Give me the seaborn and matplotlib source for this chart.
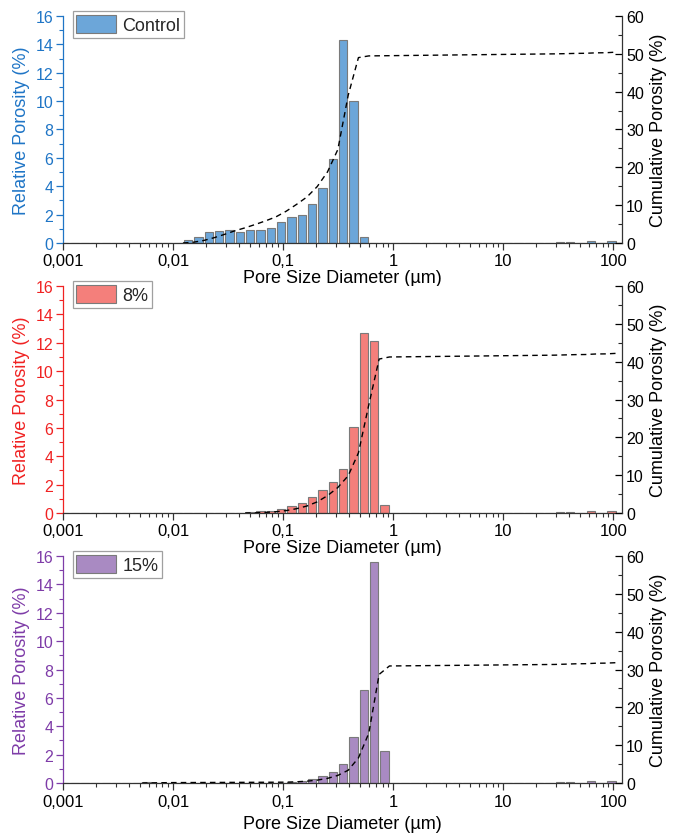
import numpy as np
import matplotlib
matplotlib.use("Agg")
import matplotlib.pyplot as plt
from matplotlib.patches import Patch
from matplotlib.ticker import MultipleLocator, LogLocator, NullFormatter
import seaborn as sns

# ---------------- data ----------------
x_ticks = [0.001, 0.01, 0.1, 1, 10, 100]
x_ticklabels = ["0,001", "0,01", "0,1", "1", "10", "100"]

# pore diameters (µm) of the MIP classes
control_d = [0.0137, 0.0170, 0.0212, 0.0262, 0.0326, 0.0404, 0.0502, 0.0622, 0.0772, 0.0958,
             0.1189, 0.1476, 0.1831, 0.2273, 0.2820, 0.350, 0.434, 0.539,
             0.669, 0.830, 1.030, 1.278, 1.586, 1.968, 2.442, 3.031, 3.761, 4.667,
             5.792, 7.187, 8.919, 11.07, 13.73, 17.04, 21.15, 26.24,
             32.57, 40.41, 50.15, 62.23, 77.22, 95.83]
control_p = [0.20, 0.45, 0.75, 0.85, 0.95, 0.80, 0.90, 0.95, 1.05, 1.50,
             1.80, 1.95, 2.75, 3.90, 5.90, 14.30, 10.00, 0.45,
             0.03, 0.03, 0.03, 0.03, 0.03, 0.03, 0.03, 0.03, 0.03, 0.03,
             0.03, 0.03, 0.03, 0.03, 0.03, 0.03, 0.03, 0.03,
             0.05, 0.07, 0.03, 0.12, 0.03, 0.16]

m8_d = [0.0502, 0.0622, 0.0772, 0.0958, 0.1189, 0.1476, 0.1831, 0.2273, 0.2820, 0.350,
        0.434, 0.539, 0.669, 0.830, 1.030, 1.278, 1.586, 1.968, 2.442, 3.031, 3.761,
        4.667, 5.792, 7.187, 8.919, 11.07, 13.73, 17.04, 21.15, 26.24,
        32.57, 40.41, 50.15, 62.23, 77.22, 95.83]
m8_p = [0.05, 0.12, 0.17, 0.30, 0.50, 0.70, 1.10, 1.65, 2.15, 3.10,
        6.05, 12.70, 12.10, 0.55, 0.03, 0.03, 0.03, 0.03, 0.03, 0.03, 0.03,
        0.03, 0.03, 0.03, 0.03, 0.03, 0.03, 0.03, 0.03, 0.03,
        0.07, 0.07, 0.03, 0.14, 0.03, 0.14]

m15_d = [0.0058, 0.0072, 0.0089, 0.0111, 0.0137, 0.0170, 0.0212, 0.0262, 0.0326, 0.0404,
         0.0502, 0.0622, 0.0772, 0.0958, 0.1189, 0.1476, 0.1831, 0.2273, 0.2820, 0.350,
         0.434, 0.539, 0.669, 0.830, 1.030, 1.278, 1.586, 1.968, 2.442, 3.031, 3.761,
         4.667, 5.792, 7.187, 8.919, 11.07, 13.73, 17.04, 21.15, 26.24,
         32.57, 40.41, 50.15, 62.23, 77.22, 95.83]
m15_p = [0.05, 0.03, 0.03, 0.01, 0.01, 0.01, 0.01, 0.01, 0.01, 0.01,
         0.01, 0.01, 0.01, 0.01, 0.10, 0.16, 0.28, 0.47, 0.78, 1.36,
         3.26, 6.53, 15.55, 2.23, 0.025, 0.025, 0.025, 0.025, 0.025, 0.025, 0.025,
         0.025, 0.025, 0.025, 0.025, 0.025, 0.025, 0.025, 0.025, 0.025,
         0.07, 0.10, 0.03, 0.12, 0.03, 0.12]

labels = ["Control", "8%", "15%"]
fills = ["#6CA6D9", "#F47F7B", "#A98AC2"]
axis_colors = ["#1F75C6", "#F02222", "#7E3CA8"]

# ---------------- style ----------------
sns.set_theme(style="ticks")
plt.rcParams["font.family"] = ["Liberation Sans", "DejaVu Sans"]
plt.rcParams["axes.linewidth"] = 0.9

LOGW = 0.0938                      # class width in decades
LO = np.log10(0.35) - LOGW / 2 - 40 * LOGW
HI = LO + 70 * LOGW
EDGE = "#7A7A7A"

fig = plt.figure(figsize=(6.83, 8.37), dpi=100)
boxes = [(0.7085, 0.9797), (0.3859, 0.6571), (0.0633, 0.3345)]
tick_pads = [2, 2, 3]
label_pads = [1, 1, 4]
left, right = 63 / 683, 622 / 683

datasets = [(control_d, control_p), (m8_d, m8_p), (m15_d, m15_p)]

for i, ((d, p), lab, fc, ac, (b, t)) in enumerate(zip(datasets, labels, fills, axis_colors, boxes)):
    ax = fig.add_axes([left, b, right - left, t - b])
    sns.histplot(x=d, weights=p, log_scale=True, binwidth=LOGW, binrange=(LO, HI),
                 shrink=0.8, color=fc, edgecolor=EDGE, linewidth=0.8, alpha=1,
                 stat="count", ax=ax)
    ax.set_xlim(0.001, 120)
    ax.set_ylim(0, 16)
    ax.set_xticks(x_ticks)
    ax.set_xticklabels(x_ticklabels)
    ax.xaxis.set_minor_locator(LogLocator(base=10, subs=np.arange(2, 10)))
    ax.xaxis.set_minor_formatter(NullFormatter())
    ax.yaxis.set_major_locator(MultipleLocator(2))
    ax.yaxis.set_minor_locator(MultipleLocator(1))
    ax.tick_params(axis="x", which="major", direction="out", length=5, width=0.9,
                   labelsize=12, pad=tick_pads[i], color="#333333", labelcolor="black")
    ax.tick_params(axis="x", which="minor", direction="out", length=3, width=0.8, color="#333333")
    ax.tick_params(axis="y", which="major", direction="out", length=5, width=0.9,
                   labelsize=11.5, colors=ac, pad=2)
    ax.tick_params(axis="y", which="minor", direction="out", length=3, width=0.8, colors=ac)
    ax.spines["left"].set_color(ac)
    ax.spines["bottom"].set_color("#333333")
    ax.spines["top"].set_visible(False)
    ax.spines["right"].set_visible(False)
    ax.set_ylabel("Relative Porosity (%)", color=ac, fontsize=13, labelpad=4)
    ax.set_xlabel("Pore Size Diameter (µm)", fontsize=13, labelpad=label_pads[i], color="black")

    # cumulative porosity at class upper bounds
    dd = np.asarray(d)
    cum_x = np.concatenate([[dd[0] * 10 ** (-LOGW / 2)], dd * 10 ** (LOGW / 2)])
    cum_y = np.concatenate([[0.0], np.cumsum(p)])
    ax2 = ax.twinx()
    sns.lineplot(x=cum_x, y=cum_y, ax=ax2, color="black", linestyle=(0, (4, 3)),
                 linewidth=1.0, sort=False)
    ax2.set_ylim(0, 60)
    ax2.set_xlim(0.001, 120)
    ax2.yaxis.set_major_locator(MultipleLocator(10))
    ax2.yaxis.set_minor_locator(MultipleLocator(5))
    ax2.tick_params(axis="y", which="major", direction="in", length=5, width=0.9,
                    labelsize=11.5, colors="black", pad=3)
    ax2.tick_params(axis="y", which="minor", direction="in", length=3, width=0.8)
    for s in ("left", "top", "bottom"):
        ax2.spines[s].set_visible(False)
    ax2.spines["right"].set_color("#333333")
    ax2.set_ylabel("Cumulative Porosity (%)", fontsize=13, labelpad=4, color="black")

    handle = Patch(facecolor=fc, edgecolor=EDGE, linewidth=0.8)
    leg = ax2.legend([handle], [lab], loc="upper left", bbox_to_anchor=(0.017, 1.02),
                     fontsize=13, frameon=True, fancybox=False, handlelength=2.2,
                     handleheight=1.1, handletextpad=0.35, borderpad=0.22,
                     borderaxespad=0.0)
    leg.get_frame().set_edgecolor("#888888")
    leg.get_frame().set_linewidth(0.9)

fig.savefig("out.png", dpi=100)
